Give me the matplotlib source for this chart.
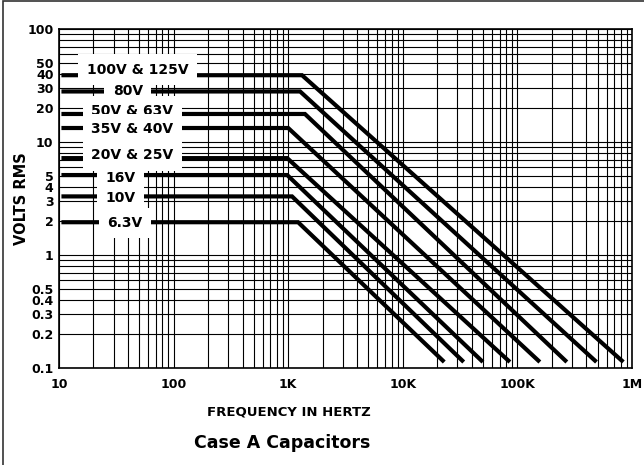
import numpy as np
import matplotlib
matplotlib.use('Agg')
import matplotlib.pyplot as plt
from matplotlib.patches import Rectangle
from matplotlib.ticker import LogLocator, NullFormatter

# ratings, flat voltage below the knee, knee frequency, end of the roll-off
labels = ['100V & 125V', '80V', '50V & 63V', '35V & 40V',
          '20V & 25V', '16V', '10V', '6.3V']
v_flat = [39, 28, 17.7, 13.3, 7.2, 5.1, 3.3, 1.95]
f_knee = [1320, 1270, 1400, 1000, 980, 980, 1080, 1220]
f_end = [840e3, 490e3, 270e3, 157e3, 86e3, 50e3, 34e3, 23e3]
f_start = 10.5
v_end = 0.113

xticks = [10, 100, 1e3, 1e4, 1e5, 1e6]
xticklabels = ['10', '100', '1K', '10K', '100K', '1M']
yticks = [0.1, 0.2, 0.3, 0.4, 0.5, 1, 2, 3, 4, 5, 10, 20, 30, 40, 50, 100]
yticklabels = ['0.1', '0.2', '0.3', '0.4', '0.5', '1', '2', '3', '4', '5',
               '10', '20', '30', '40', '50', '100']

# where the in-line labels sit (axes fraction across, points up/down)
lab_x = [0.137, 0.120, 0.128, 0.128, 0.128, 0.107, 0.107, 0.115]
lab_dy = [4, 0, 2, -1, 2, -2, -1.5, -0.5]

plt.rcParams['font.family'] = 'DejaVu Sans'
plt.rcParams['font.weight'] = 'bold'

fig = plt.figure(figsize=(6.44, 4.65), dpi=100)
ax = fig.add_axes([59 / 644, 1 - 368 / 465, 573 / 644, 339 / 465])

for lab, v, fk, fe, lx, dy in zip(labels, v_flat, f_knee, f_end, lab_x, lab_dy):
    ax.plot([f_start, fk, fe], [v, v, v_end], color='black', lw=3,
            solid_joinstyle='miter', solid_capstyle='butt', zorder=2)
    ax.annotate(lab, xy=(lx, v), xycoords=('axes fraction', 'data'),
                xytext=(0, dy), textcoords='offset points',
                ha='center', va='center', fontsize=10, fontweight='bold',
                bbox=dict(boxstyle='square,pad=0.6', facecolor='white',
                          edgecolor='none'), zorder=3)

ax.set_xscale('log')
ax.set_yscale('log')
ax.set_xlim(10, 1e6)
ax.set_ylim(0.1, 100)
ax.set_xticks(xticks)
ax.set_xticklabels(xticklabels)
ax.set_yticks(yticks)
ax.set_yticklabels(yticklabels)
ax.xaxis.set_minor_locator(LogLocator(base=10, subs=np.arange(2, 10)))
ax.yaxis.set_minor_locator(LogLocator(base=10, subs=np.arange(2, 10)))
ax.xaxis.set_minor_formatter(NullFormatter())
ax.yaxis.set_minor_formatter(NullFormatter())
ax.tick_params(which='both', length=0, labelsize=9)
ax.tick_params(axis='x', pad=7)
ax.tick_params(axis='y', pad=4)
ax.set_axisbelow(True)
ax.grid(True, which='both', color='black', lw=0.8)
for s in ax.spines.values():
    s.set_linewidth(1.2)

fig.text(22 / 644, 1 - 199 / 465, 'VOLTS RMS', rotation=90, ha='center',
         va='center', fontsize=10.5, fontweight='bold')
fig.text(289 / 644, 1 - 412 / 465, 'FREQUENCY IN HERTZ', ha='center',
         va='center', fontsize=9.5, fontweight='bold')
fig.text(282 / 644, 1 - 443 / 465, 'Case A Capacitors', ha='center',
         va='center', fontsize=12.5, fontweight='bold')

# outer frame of the figure
fig.patches.append(Rectangle((3.3 / 644, -0.05), 1.1, 1.05 - 1 / 465,
                             transform=fig.transFigure, fill=False,
                             edgecolor='#333333', lw=1.2))

fig.savefig('out.png', dpi=100)
